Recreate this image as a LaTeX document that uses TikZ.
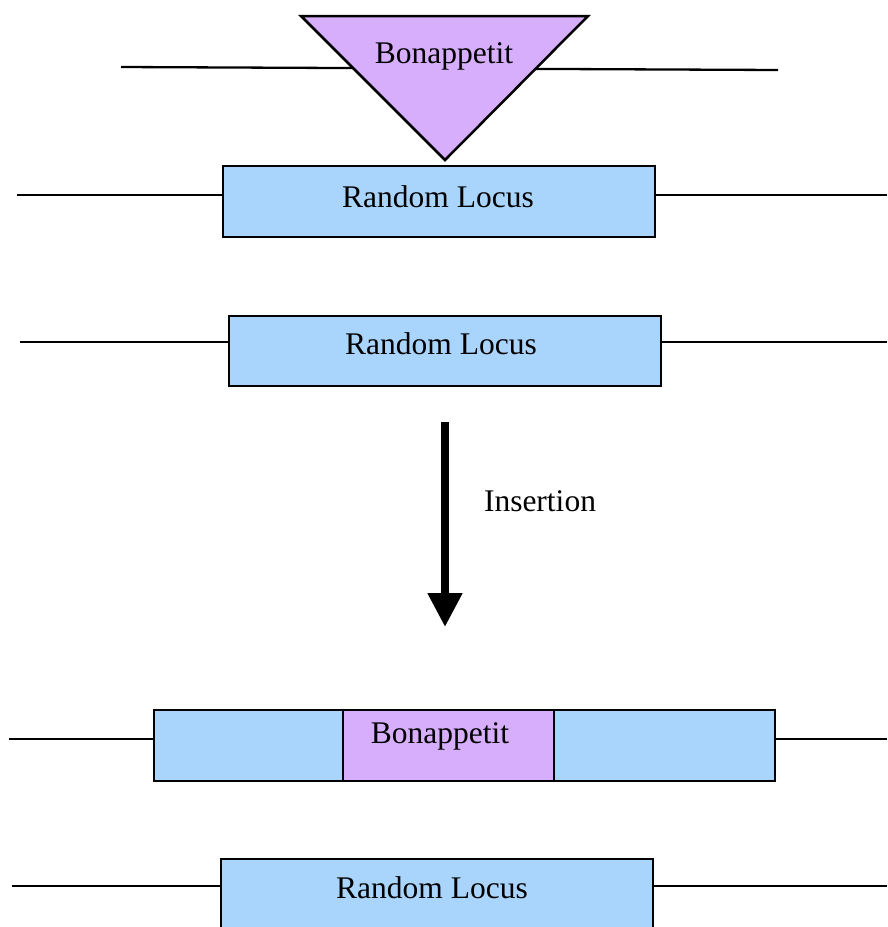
\documentclass[tikz,border=0pt]{standalone}
\usepackage{fontspec}
\setmainfont{Liberation Serif}
\usetikzlibrary{arrows.meta}
\definecolor{locusblue}{HTML}{A9D5FD}
\definecolor{insertpurple}{HTML}{D7AEFC}
\tikzset{
  strand/.style={line width=2.3pt, black},
  segment/.style={draw=black, line width=2.5pt, rectangle, inner sep=0pt, outer sep=0pt},
  locus/.style={segment, fill=locusblue},
  insert/.style={segment, fill=insertpurple},
  lbl/.style={font=\fontsize{31.5pt}{35pt}\selectfont, anchor=base, inner sep=0pt},
  bigarrow/.style={line width=8pt, -{Triangle[length=34pt,width=33pt]}}
}
\begin{document}
\begin{tikzpicture}[x=1pt,y=-1pt]
\useasboundingbox (0,0) rectangle (887,927);

% donor strand with the element to be inserted
\coordinate (dL) at (121,67);
\coordinate (dR) at (778,70);
\draw[strand] (dL) -- (dR);
\coordinate (tA) at (301,16);
\coordinate (tB) at (588,16);
\coordinate (tC) at (445,160);
\filldraw[fill=insertpurple, draw=black, line width=2.5pt, line join=miter] (tA) -- (tB) -- (tC) -- cycle;
\node[lbl] (tlbl) at (444,63) {Bonappetit};

% target locus, first copy
\node[locus, minimum width=432pt, minimum height=71pt] (loc1) at (439,201.5) {};
\coordinate (l1L) at (17,195);
\coordinate (l1R) at (887,195);
\draw[strand] (l1L) -- (l1L -| loc1.west);
\draw[strand] (l1R -| loc1.east) -- (l1R);
\node[lbl] at (438,207) {Random Locus};

% target locus, second copy
\node[locus, minimum width=432pt, minimum height=70pt] (loc2) at (445,351) {};
\coordinate (l2L) at (20,342);
\coordinate (l2R) at (887,342);
\draw[strand] (l2L) -- (l2L -| loc2.west);
\draw[strand] (l2R -| loc2.east) -- (l2R);
\node[lbl] at (441,354) {Random Locus};

% insertion step
\coordinate (aTop) at (445,422);
\coordinate (aBot) at (445,627);
\draw[bigarrow] (aTop) -- (aBot);
\node[lbl] (ins) at (540,511) {Insertion};

% locus after insertion
\node[locus, minimum width=621pt, minimum height=71pt] (loc3) at (464.5,745.5) {};
\node[insert, minimum width=211pt, minimum height=71pt] (bon) at (448.5,745.5) {};
\coordinate (l3L) at (9,739);
\coordinate (l3R) at (887,739);
\draw[strand] (l3L) -- (l3L -| loc3.west);
\draw[strand] (l3R -| loc3.east) -- (l3R);
\node[lbl] at (440,743) {Bonappetit};

% unchanged locus
\node[locus, minimum width=432pt, minimum height=100pt] (loc4) at (437,909) {};
\coordinate (l4L) at (12,886);
\coordinate (l4R) at (887,886);
\draw[strand] (l4L) -- (l4L -| loc4.west);
\draw[strand] (l4R -| loc4.east) -- (l4R);
\node[lbl] at (432,898) {Random Locus};
\end{tikzpicture}
\end{document}
